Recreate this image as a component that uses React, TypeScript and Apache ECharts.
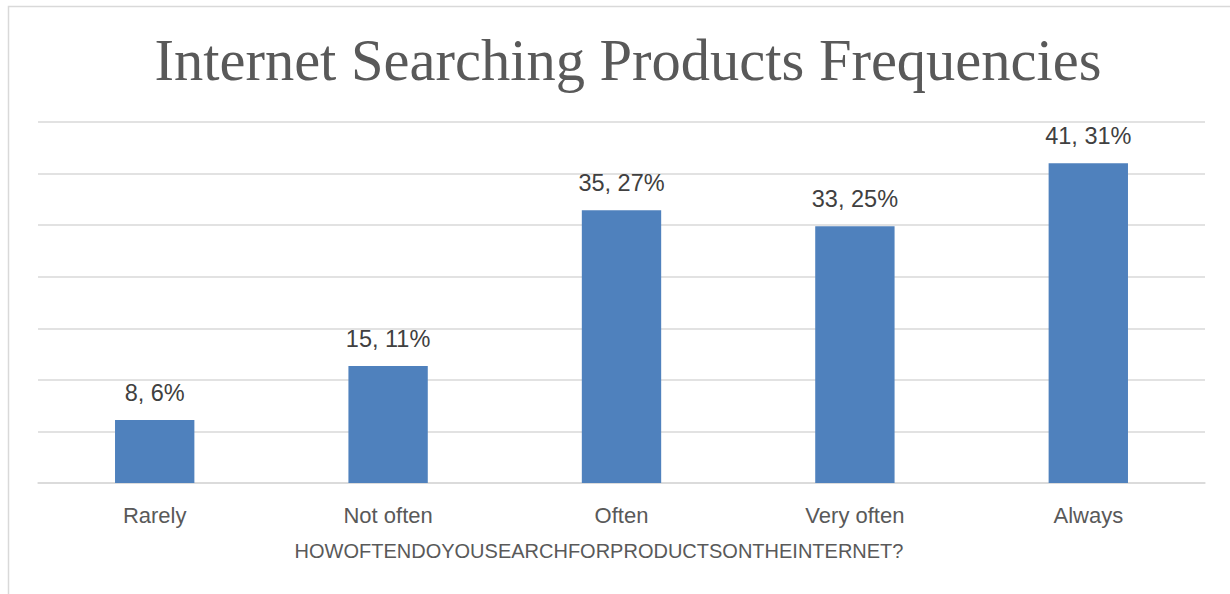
import React, { useEffect, useRef } from "react";
import * as echarts from "echarts";

const categories = ["Rarely", "Not often", "Often", "Very often", "Always"];
const counts = [8, 15, 35, 33, 41];
const percentLabels = ["6%", "11%", "27%", "25%", "31%"];
// bar heights (percent of respondents)
const percentValues = [6.1, 11.35, 26.45, 24.9, 31.0];
const titleText = "Internet Searching Products Frequencies";
const xAxisName = "HOWOFTENDOYOUSEARCHFORPRODUCTSONTHEINTERNET?";

export default function App() {
  const ref = useRef<HTMLDivElement>(null);
  useEffect(() => {
    document.body.style.margin = "0";
    const chart = echarts.init(ref.current!, null, { renderer: "svg" });
    chart.setOption({
      animation: false,
      backgroundColor: "#ffffff",
      title: {
        text: titleText,
        left: 623,
        textAlign: "center",
        top: 26,
        textStyle: {
          fontFamily: "Liberation Serif",
          fontWeight: "normal",
          fontSize: 58.5,
          color: "#595959",
        },
      },
      graphic: [
        {
          type: "rect",
          shape: { x: 8.5, y: 6.5, width: 1300, height: 700 },
          style: { fill: "none", stroke: "#d9d9d9", lineWidth: 1.5 },
          silent: true,
        },
        {
          type: "text",
          x: 599,
          y: 551,
          style: {
            text: xAxisName,
            fontFamily: "Liberation Sans",
            fontSize: 20,
            fill: "#595959",
            align: "center",
            verticalAlign: "middle",
          },
          silent: true,
        },
      ],
      grid: { left: 38, right: 25, top: 122, bottom: 111, containLabel: false },
      xAxis: {
        type: "category",
        data: categories,
        axisLine: { lineStyle: { color: "#d9d9d9", width: 1.5 } },
        axisTick: { show: false },
        axisLabel: {
          fontFamily: "Liberation Sans",
          fontSize: 22,
          color: "#595959",
          margin: 21,
        },
      },
      yAxis: {
        type: "value",
        min: 0,
        max: 35,
        interval: 5,
        axisLabel: { show: false },
        axisLine: { show: false },
        axisTick: { show: false },
        splitLine: { lineStyle: { color: "#d9d9d9", width: 1.5 } },
      },
      series: [
        {
          type: "bar",
          data: percentValues,
          barWidth: "34%",
          itemStyle: { color: "#4f81bd" },
          label: {
            show: true,
            position: "top",
            distance: 15,
            fontFamily: "Liberation Sans",
            fontSize: 23.5,
            color: "#404040",
            formatter: (p: any) => `${counts[p.dataIndex]}, ${percentLabels[p.dataIndex]}`,
          },
        },
      ],
    });
    return () => chart.dispose();
  }, []);
  return <div ref={ref} style={{ width: 1230, height: 594 }} />;
}
